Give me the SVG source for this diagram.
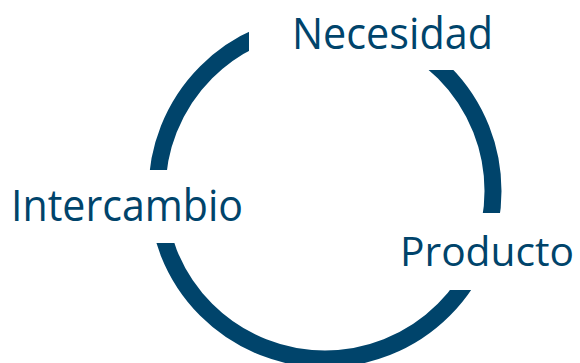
<svg xmlns="http://www.w3.org/2000/svg" width="580" height="363" viewBox="0 0 580 363">
  <style>
    .ring { fill: none; stroke: #00446B; stroke-width: 17; }
    .mask { fill: #FFFFFF; }
    .label { font-family: "Open Sans", "Noto Sans", sans-serif; font-size: 43px; fill: #00446B; }
  </style>
  <rect width="580" height="363" fill="#FFFFFF"/>
  <g id="connectors">
    <circle class="ring" cx="325" cy="191" r="168"/>
  </g>
  <g id="node-necesidad">
    <rect class="mask" x="249" y="0" width="270" height="70"/>
    <text class="label" x="292" y="49" textLength="201" lengthAdjust="spacingAndGlyphs">Necesidad</text>
  </g>
  <g id="node-intercambio">
    <rect class="mask" x="0" y="170" width="250" height="73"/>
    <text class="label" x="11" y="221" textLength="232" lengthAdjust="spacingAndGlyphs">Intercambio</text>
  </g>
  <g id="node-producto">
    <rect class="mask" x="395" y="213" width="185" height="77"/>
    <text class="label" x="400" y="266" style="font-size:41px" textLength="174" lengthAdjust="spacingAndGlyphs">Producto</text>
  </g>
</svg>
